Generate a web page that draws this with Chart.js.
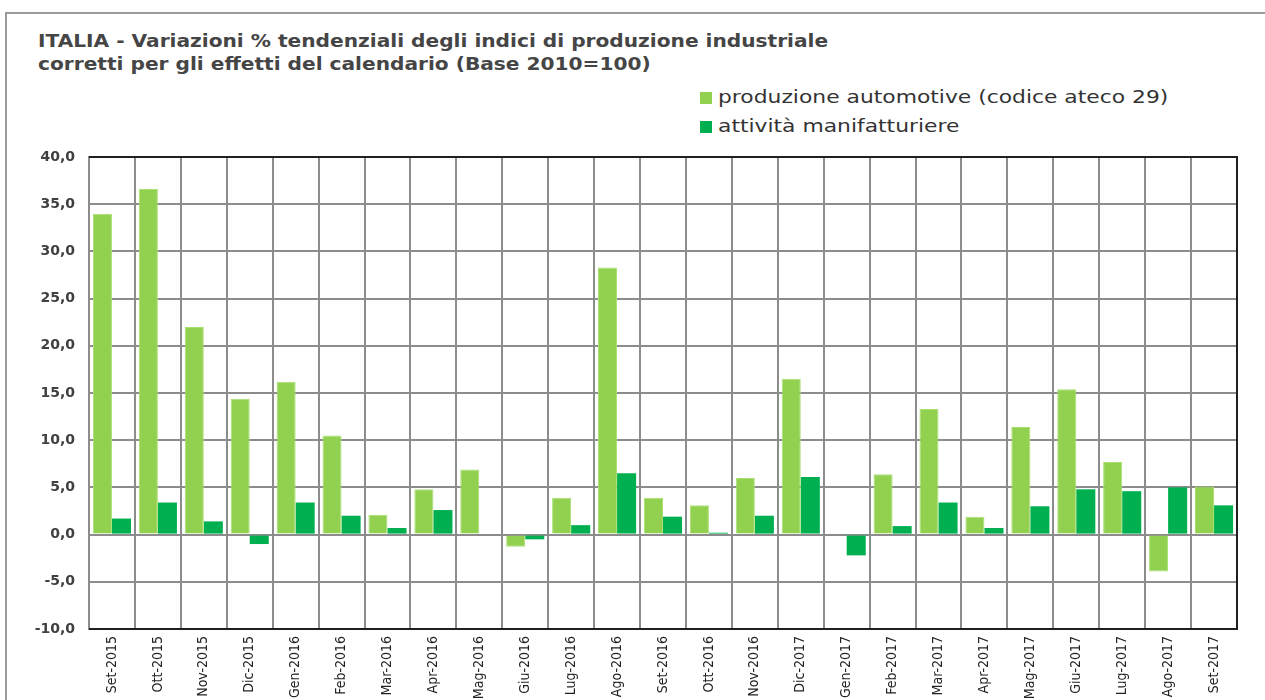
<!DOCTYPE html>
<html>
<head>
<meta charset="utf-8">
<script src="https://cdn.jsdelivr.net/npm/chart.js@4/dist/chart.umd.min.js"></script>
<style>
  html, body { margin:0; padding:0; background:#fff; width:1265px; height:700px; overflow:hidden; }
  #frame { position:absolute; left:5px; top:12px; width:1262px; height:700px; border:2px solid #9a9a9a; box-sizing:border-box; }
  #title { position:absolute; left:38px; top:29px; font-family:'DejaVu Sans'; font-weight:bold; font-size:18px; color:#454545; line-height:23px; white-space:nowrap; transform-origin:0 0; }
  #legend { position:absolute; left:700px; top:85px; font-family:'DejaVu Sans'; font-size:18px; color:#333; }
  .li { height:29px; line-height:24px; white-space:nowrap; }
  .sw { display:inline-block; width:12px; height:12px; margin-right:6px; vertical-align:-1px; }
  .lt { display:inline-block; transform-origin:0 50%; }
  #c { position:absolute; left:0; top:0; }
</style>
</head>
<body>
<div id="frame"></div>
<div id="title">ITALIA - Variazioni % tendenziali degli indici di produzione industriale<br>corretti per gli effetti del calendario (Base 2010=100)</div>
<div id="legend"></div>
<canvas id="c" width="1265" height="700"></canvas>
<script>
const categories = ["Set-2015","Ott-2015","Nov-2015","Dic-2015","Gen-2016","Feb-2016","Mar-2016","Apr-2016","Mag-2016","Giu-2016","Lug-2016","Ago-2016","Set-2016","Ott-2016","Nov-2016","Dic-2017","Gen-2017","Feb-2017","Mar-2017","Apr-2017","Mag-2017","Giu-2017","Lug-2017","Ago-2017","Set-2017"];
const automotive = [34.0,36.6,22.0,14.4,16.2,10.5,2.1,4.8,6.9,-1.3,3.9,28.3,3.9,3.1,6.0,16.5,0.1,6.4,13.3,1.9,11.4,15.4,7.7,-3.9,5.1];
const manifatturiere = [1.7,3.4,1.4,-1.0,3.4,2.0,0.7,2.6,0.0,-0.5,1.0,6.5,1.9,0.2,2.0,6.1,-2.2,0.9,3.4,0.7,3.0,4.8,4.6,5.0,3.1];
const seriesNames = ["produzione automotive (codice ateco 29)","attività manifatturiere"];
const seriesColors = ["#92D050","#00B050"];
const yTicks = [40,35,30,25,20,15,10,5,0,-5,-10];

// title stretched to reference width
const t = document.getElementById('title');
t.style.transform = 'scaleX(' + (790 / t.offsetWidth) + ')';

const leg = document.getElementById('legend');
seriesNames.forEach((n,i)=>{
  const d = document.createElement('div'); d.className='li';
  d.innerHTML = '<span class="sw" style="background:'+seriesColors[i]+'"></span><span class="lt">'+n+'</span>';
  leg.appendChild(d);
});
const lts = leg.querySelectorAll('.lt');
const ls = 450 / lts[0].offsetWidth;
lts.forEach(e=>e.style.transform='scaleX('+ls+')');

const borderPlugin = {
  id:'plotBorder',
  afterDraw(chart){
    const a = chart.chartArea, ctx = chart.ctx;
    ctx.save();
    ctx.strokeStyle = '#202020'; ctx.lineWidth = 2;
    ctx.beginPath();
    ctx.moveTo(a.left, a.top); ctx.lineTo(a.right, a.top);
    ctx.lineTo(a.right, a.bottom); ctx.lineTo(a.left, a.bottom);
    ctx.stroke();
    ctx.restore();
  }
};

new Chart(document.getElementById('c'), {
  type:'bar',
  data:{
    labels:categories,
    datasets:[
      {label:seriesNames[0], data:automotive, backgroundColor:seriesColors[0], borderColor:'#a8e070', borderWidth:1, categoryPercentage:0.83, barPercentage:1.0},
      {label:seriesNames[1], data:manifatturiere, backgroundColor:seriesColors[1], borderColor:'#00B050', borderWidth:0, categoryPercentage:0.83, barPercentage:1.0}
    ]
  },
  options:{
    responsive:false,
    animation:false,
    layout:{padding:{top:157, right:28, left:0, bottom:0}},
    plugins:{legend:{display:false}, title:{display:false}, tooltip:{enabled:false}},
    scales:{
      x:{
        grid:{color:'#8c8c8c', lineWidth:2, drawTicks:false, offset:true},
        border:{color:'#202020', width:2},
        ticks:{minRotation:90, maxRotation:90, autoSkip:false, padding:7, color:'#222', font:{family:'DejaVu Sans Condensed', size:14}},
        afterFit(s){ s.height = 71; }
      },
      y:{
        min:-10, max:40,
        afterBuildTicks(s){ s.ticks = yTicks.map(v=>({value:v})); },
        grid:{color:'#8c8c8c', lineWidth:2, drawTicks:false},
        border:{color:'#8c8c8c', width:2},
        ticks:{padding:14, color:'#404040', font:{family:'DejaVu Sans', size:14, weight:'bold'},
          callback:v=>v.toFixed(1).replace('.',',')},
        afterFit(s){ s.width = 89; }
      }
    }
  },
  plugins:[borderPlugin]
});
</script>
</body>
</html>
